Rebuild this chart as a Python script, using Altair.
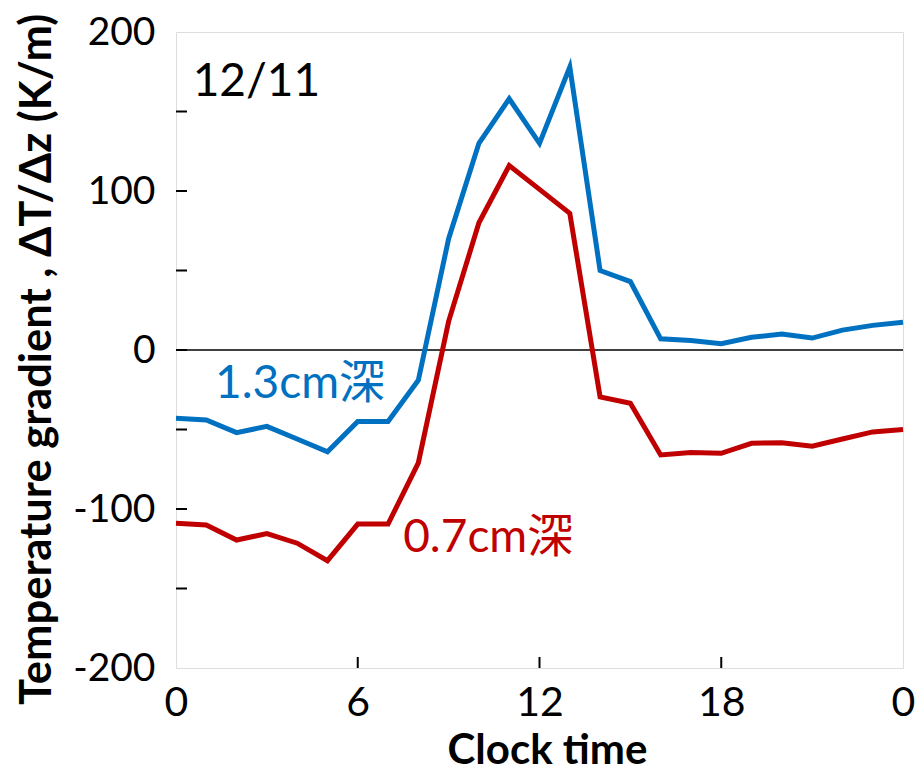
import altair as alt
import pandas as pd

# ---- data ----
hours = list(range(0, 25))
depth_13 = [-43, -44, -52, -48, -56, -64, -45, -45, -19, 70, 130, 158, 130, 178,
            50, 43, 7, 6, 4, 8, 10, 7.5, 12.5, 15.5, 17.5]
depth_07 = [-109, -110, -119.5, -115.5, -121.5, -132.5, -109.5, -109.5, -71, 18,
            80, 116, 101, 86, -29.5, -33.5, -66, -64.5, -65, -58.7, -58.3, -60.5,
            -56, -51.5, -50]
series_names = ["1.3cm深", "0.7cm深"]
series_colors = ["#0070C0", "#C00000"]

x_ticks = [0, 6, 12, 18, 24]
y_ticks = [-200, -100, 0, 100, 200]
y_inner_ticks = [-150, -100, -50, 0, 50, 100, 150]
x_inner_ticks = [6, 12, 18]

label_text = ["12/11", "1.3cm深", "0.7cm深"]
label_x = [0.55, 1.29, 7.5]
label_y = [160, -30, -127]
label_colors = ["#000000", "#0070C0", "#C00000"]

# ---- tables ----
lines_df = pd.DataFrame({
    "hour": hours * 2,
    "value": depth_13 + depth_07,
    "series": [series_names[0]] * len(hours) + [series_names[1]] * len(hours),
})
labels_df = pd.DataFrame({"hour": label_x, "value": label_y, "text": label_text,
                          "color": label_colors})
ytick_df = pd.DataFrame({"value": y_inner_ticks})
xtick_df = pd.DataFrame({"hour": x_inner_ticks})
zero_df = pd.DataFrame({"value": [0]})

W, H = 727, 636
LATO = "Lato, 'Noto Sans CJK JP', sans-serif"

xscale = alt.Scale(domain=[0, 24], nice=False, zero=False)
yscale = alt.Scale(domain=[-200, 200], nice=False)

xaxis = alt.Axis(values=x_ticks, labelExpr="toString(datum.value % 24)",
                 grid=False, ticks=False, tickSize=0, domain=False,
                 labelFlush=False, labelOverlap=False, labelFont=LATO,
                 labelFontSize=41, labelColor="black", labelPadding=15,
                 title="Clock time", titleFont=LATO, titleFontSize=42,
                 titleFontWeight="bold", titleColor="black", titleX=371,
                 titleY=95, titleBaseline="alphabetic", titleAlign="center")
yaxis = alt.Axis(values=y_ticks, labelExpr="toString(datum.value)", grid=False,
                 ticks=False, tickSize=0, domain=False, labelFlush=False,
                 labelOverlap=False, labelFont=LATO, labelFontSize=39,
                 labelColor="black", labelPadding=21,
                 title="Temperature gradient , ΔT/Δz (K/m)", titleFont=LATO,
                 titleFontSize=43.5, titleFontWeight="bold", titleColor="black",
                 titleAngle=-90, titleX=-126, titleY=327,
                 titleBaseline="alphabetic", titleAlign="center")

base_x = alt.X("hour:Q", scale=xscale, axis=xaxis)
base_y = alt.Y("value:Q", scale=yscale, axis=yaxis)

lines = alt.Chart(lines_df).mark_line(strokeWidth=5, strokeJoin="miter").encode(
    x=base_x,
    y=base_y,
    color=alt.Color("series:N", scale=alt.Scale(domain=series_names,
                                                 range=series_colors),
                    legend=None),
    detail="series:N",
)

zero = alt.Chart(zero_df).mark_rule(color="black", strokeWidth=1.5).encode(
    y=alt.Y("value:Q", scale=yscale), x=alt.value(0), x2=alt.value(W))

yt = alt.Chart(ytick_df).mark_rule(color="black", strokeWidth=2).encode(
    y=alt.Y("value:Q", scale=yscale), x=alt.value(0), x2=alt.value(11))

xt = alt.Chart(xtick_df).mark_rule(color="black", strokeWidth=2).encode(
    x=alt.X("hour:Q", scale=xscale), y=alt.value(H), y2=alt.value(H - 11))

texts = alt.Chart(labels_df).mark_text(align="left", baseline="alphabetic",
                                       font=LATO, fontSize=46).encode(
    x=alt.X("hour:Q", scale=xscale),
    y=alt.Y("value:Q", scale=yscale),
    text="text:N",
    color=alt.Color("color:N", scale=None),
)

chart = alt.layer(zero, yt, xt, lines, texts).properties(
    width=W, height=H,
    autosize=alt.AutoSizeParams(type="none"),
    padding={"left": 176, "top": 32, "right": 20, "bottom": 104},
).configure_view(stroke="black", strokeWidth=2).configure(background="white")

chart.save("out.html", embed_options={"renderer": "svg", "actions": False})
